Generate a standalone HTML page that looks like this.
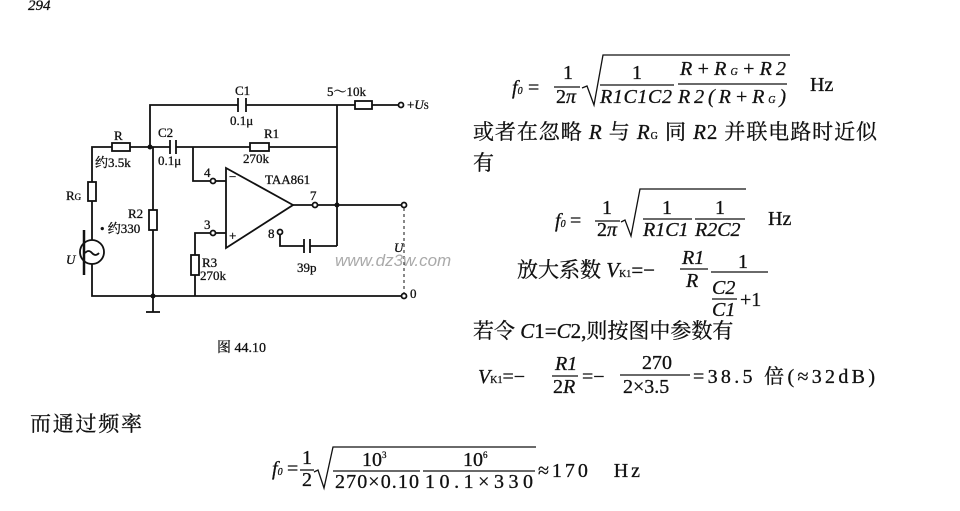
<!DOCTYPE html>
<html><head><meta charset="utf-8"><style>
html,body{margin:0;padding:0;background:#fff;}
svg{display:block;}
text{font-family:"Liberation Serif","Noto Serif CJK SC",serif;fill:#111;stroke:#111;stroke-width:0.3;}
.i{font-style:italic;}
</style></head><body>
<svg width="960" height="511" viewBox="0 0 960 511" xmlns="http://www.w3.org/2000/svg">
<text x="28" y="10" font-size="15" class="i">294</text>
<g stroke="#111" stroke-width="1.8" fill="none">
<polyline points="150,147 150,105 238,105"/><line x1="246" y1="105" x2="355" y2="105"/>
<line x1="238" y1="98" x2="238" y2="112"/><line x1="246" y1="98" x2="246" y2="112"/>
<rect x="355" y="101" width="17" height="8" fill="#fff"/>
<line x1="372" y1="105" x2="398" y2="105"/><circle cx="401" cy="105" r="2.5" fill="#fff"/>
<line x1="337" y1="105" x2="337" y2="246"/>
<polyline points="92,182 92,147 112,147"/><rect x="112" y="143" width="18" height="8" fill="#fff"/>
<line x1="130" y1="147" x2="170" y2="147"/>
<line x1="170" y1="140" x2="170" y2="154"/><line x1="176" y1="140" x2="176" y2="154"/>
<line x1="176" y1="147" x2="250" y2="147"/><rect x="250" y="143" width="19" height="8" fill="#fff"/>
<line x1="269" y1="147" x2="337" y2="147"/>
<rect x="88" y="182" width="8" height="19" fill="#fff"/>
<line x1="92" y1="201" x2="92" y2="240"/>
<circle cx="92" cy="252" r="12" fill="#fff"/>
<path d="M85,253 q3.5,-4 7,0 q3.5,4 7,0"/>
<polyline points="92,264 92,296 404,296"/>
<line x1="153" y1="147" x2="153" y2="210"/><rect x="149" y="210" width="8" height="20" fill="#fff"/>
<line x1="153" y1="230" x2="153" y2="312"/><line x1="146" y1="312" x2="160" y2="312"/>
<polyline points="193,147 193,181 211,181"/><circle cx="213" cy="181" r="2.5" fill="#fff"/>
<line x1="215" y1="181" x2="226" y2="181"/>
<polygon points="226,168 226,248 293,205" fill="#fff"/>
<line x1="293" y1="205" x2="313" y2="205"/><circle cx="315" cy="205" r="2.5" fill="#fff"/>
<line x1="317" y1="205" x2="401" y2="205"/><circle cx="404" cy="205" r="2.5" fill="#fff"/>
<line x1="404" y1="208" x2="404" y2="293" stroke-dasharray="3,3" stroke-width="1"/>
<circle cx="404" cy="296" r="2.5" fill="#fff"/>
<polyline points="195,296 195,233 211,233"/><circle cx="213" cy="233" r="2.5" fill="#fff"/>
<line x1="215" y1="233" x2="226" y2="233"/>
<rect x="191" y="255" width="8" height="20" fill="#fff"/>
<circle cx="280" cy="232" r="2.5" fill="#fff"/>
<polyline points="280,234 280,246 304,246"/><line x1="304" y1="239" x2="304" y2="253"/>
<line x1="310" y1="239" x2="310" y2="253"/><line x1="310" y1="246" x2="337" y2="246"/>
<path d="M84,230 v45" stroke-width="2.5"/>
</g>
<g fill="#111"><circle cx="150" cy="147" r="2.5"/><circle cx="337" cy="205" r="2.5"/><circle cx="153" cy="296" r="2.5"/></g>
<g font-size="13">
<text x="235" y="95">C1</text><text x="230" y="125">0.1μ</text>
<text x="327" y="96">5～10k</text><text x="407" y="109">+<tspan class="i">U</tspan><tspan font-size="9">S</tspan></text>
<text x="114" y="140">R</text><text x="95" y="167">约3.5k</text>
<text x="158" y="137">C2</text><text x="158" y="165">0.1μ</text>
<text x="264" y="138">R1</text><text x="243" y="163">270k</text>
<text x="66" y="200">R<tspan font-size="9">G</tspan></text>
<text x="128" y="218">R2</text><text x="100" y="233">• 约330</text>
<text x="204" y="177">4</text><text x="204" y="229">3</text>
<text x="229" y="181">−</text><text x="229" y="240">+</text>
<text x="265" y="184">TAA861</text><text x="310" y="200">7</text><text x="268" y="238">8</text>
<text x="297" y="272">39p</text>
<text x="202" y="267">R3</text><text x="200" y="280">270k</text>
<text x="394" y="252" class="i">U</text><text x="410" y="298">0</text>
<text x="66" y="264" class="i">U</text>
</g>
<text x="335" y="266" font-size="17" class="i" style="fill:#aaa;stroke:none;font-family:'Liberation Sans',sans-serif">www.dz3w.com</text>
<text x="217" y="352" font-size="14">图 44.10</text>
<g font-size="20">
<text x="512" y="94" class="i">f<tspan font-size="10">0</tspan></text><text x="528" y="94">=</text>
<text x="563" y="79">1</text><text x="556" y="103">2<tspan class="i">π</tspan></text>
<line x1="554" y1="87" x2="580" y2="87" stroke="#111" stroke-width="1.3"/>
<polyline points="582,88 587,86 594,105 603,55 790,55" fill="none" stroke="#111" stroke-width="1.3"/>
<text x="632" y="79">1</text><text x="600" y="103" class="i" textLength="72">R1C1C2</text>
<line x1="600" y1="85" x2="674" y2="85" stroke="#111" stroke-width="1.3"/>
<text x="680" y="75" class="i" textLength="106">R+R<tspan font-size="10">G</tspan>+R2</text>
<text x="678" y="103" class="i" textLength="108">R2(R+R<tspan font-size="10">G</tspan>)</text>
<line x1="678" y1="84" x2="787" y2="84" stroke="#111" stroke-width="1.3"/>
<text x="810" y="91">Hz</text>
<text x="473" y="139" font-size="21" textLength="404">或者在忽略 <tspan class="i">R</tspan> 与 <tspan class="i">R</tspan><tspan font-size="10">G</tspan> 同 <tspan class="i">R</tspan>2 并联电路时近似</text>
<text x="473" y="170" font-size="21">有</text>
<text x="555" y="227" class="i">f<tspan font-size="10">0</tspan></text><text x="570" y="227">=</text>
<text x="602" y="214">1</text><text x="597" y="236">2<tspan class="i">π</tspan></text>
<line x1="595" y1="221" x2="620" y2="221" stroke="#111" stroke-width="1.3"/>
<polyline points="621,222 625,220 631,236 640,189 746,189" fill="none" stroke="#111" stroke-width="1.3"/>
<text x="662" y="214">1</text><text x="643" y="236" class="i">R1C1</text>
<line x1="643" y1="219" x2="692" y2="219" stroke="#111" stroke-width="1.3"/>
<text x="715" y="214">1</text><text x="695" y="236" class="i">R2C2</text>
<line x1="695" y1="219" x2="745" y2="219" stroke="#111" stroke-width="1.3"/>
<text x="768" y="225">Hz</text>
<text x="517" y="277" font-size="21">放大系数 <tspan class="i">V</tspan><tspan font-size="10">K1</tspan>=−</text>
<text x="682" y="264" class="i">R1</text><text x="686" y="287" class="i">R</text>
<line x1="680" y1="269" x2="708" y2="269" stroke="#111" stroke-width="1.3"/>
<text x="738" y="268">1</text>
<line x1="711" y1="272" x2="768" y2="272" stroke="#111" stroke-width="1.3"/>
<text x="712" y="294" class="i">C2</text><text x="712" y="316" class="i">C1</text>
<line x1="712" y1="299" x2="737" y2="299" stroke="#111" stroke-width="1.3"/>
<text x="740" y="306">+1</text>
<text x="473" y="338" font-size="21">若令 <tspan class="i">C</tspan>1=<tspan class="i">C</tspan>2,则按图中参数有</text>
<text x="478" y="383"><tspan class="i">V</tspan><tspan font-size="10">K1</tspan>=−</text>
<text x="555" y="370" class="i">R1</text><text x="553" y="393">2<tspan class="i">R</tspan></text>
<line x1="552" y1="376" x2="578" y2="376" stroke="#111" stroke-width="1.3"/>
<text x="582" y="383">=−</text>
<text x="642" y="369">270</text><text x="623" y="393">2×3.5</text>
<line x1="620" y1="375" x2="690" y2="375" stroke="#111" stroke-width="1.3"/>
<text x="693" y="383" textLength="182">=38.5 倍(≈32dB)</text>
<text x="30" y="431" font-size="21" textLength="112">而通过频率</text>
<text x="272" y="475" class="i">f<tspan font-size="10">0</tspan></text><text x="287" y="475">=</text>
<text x="302" y="464">1</text><text x="302" y="486">2</text>
<line x1="300" y1="470" x2="314" y2="470" stroke="#111" stroke-width="1.3"/>
<polyline points="314,472 318,470 324,488 333,447 536,447" fill="none" stroke="#111" stroke-width="1.3"/>
<text x="362" y="466">10<tspan font-size="9" dy="-8">3</tspan></text>
<text x="335" y="488" textLength="84">270×0.10</text>
<line x1="333" y1="471" x2="420" y2="471" stroke="#111" stroke-width="1.3"/>
<text x="463" y="466">10<tspan font-size="9" dy="-8">6</tspan></text>
<text x="425" y="488" textLength="108">10.1×330</text>
<line x1="423" y1="471" x2="535" y2="471" stroke="#111" stroke-width="1.3"/>
<text x="538" y="477" textLength="102">≈170　Hz</text>
</g>
</svg>
</body></html>
